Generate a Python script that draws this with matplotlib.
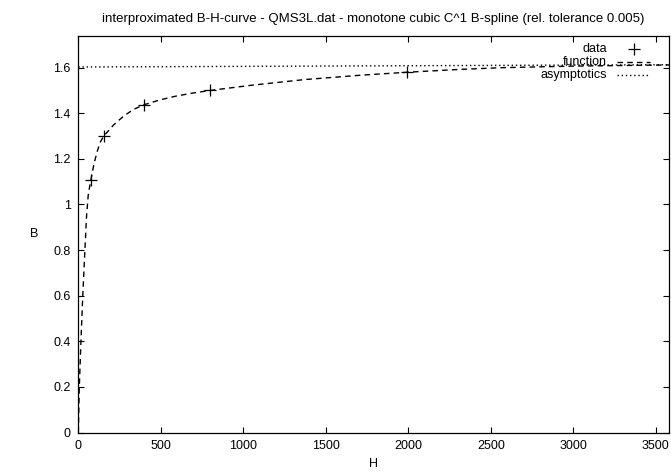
import matplotlib
matplotlib.use('Agg')
import matplotlib.pyplot as plt
from matplotlib.lines import Line2D

plt.rcParams['font.family'] = ['Liberation Sans', 'DejaVu Sans']
plt.rcParams['font.size'] = 9


# measured points of the B-H curve
H_data = [76, 154, 396, 796, 1992]
B_data = [1.107, 1.30, 1.437, 1.50, 1.58]

# interpolating function, sampled along the curve
H_func = [0, 6, 16, 27, 40, 50, 60, 68, 76, 95, 115, 134, 154, 214, 275,
          335, 396, 496, 596, 696, 796, 1050, 1373, 1712, 1992, 2300,
          2563, 3000, 3580]
B_func = [0.0, 0.2, 0.4, 0.6, 0.8, 0.95, 1.04, 1.075, 1.107, 1.178, 1.234,
          1.275, 1.30, 1.349, 1.388, 1.417, 1.437, 1.459, 1.476, 1.489,
          1.50, 1.523, 1.548, 1.567, 1.58, 1.592, 1.60, 1.607, 1.612]

# saturation asymptote
H_asym = [0, 3580]
B_asym = [1.603, 1.613]

x_ticks = [0, 500, 1000, 1500, 2000, 2500, 3000, 3500]
y_ticks = [0, 0.2, 0.4, 0.6, 0.8, 1.0, 1.2, 1.4, 1.6]
y_ticklabels = ['0', '0.2', '0.4', '0.6', '0.8', '1', '1.2', '1.4', '1.6']

title = 'interproximated B-H-curve - QMS3L.dat - monotone cubic C^1 B-spline (rel. tolerance 0.005)'


fig = plt.figure(figsize=(6.71, 4.73), dpi=100)
ax = fig.add_axes([0.1167, 0.0856, 0.997 - 0.1167, 0.9239 - 0.0856])

dash = (0, (4, 3))
dot = (0, (1, 2))

ax.plot(H_asym, B_asym, color='black', lw=1.0, linestyle=dot)
ax.plot(H_func, B_func, color='black', lw=1.0, linestyle=dash)
ax.plot(H_data, B_data, linestyle='none', marker='+', color='black',
        markersize=9, markeredgewidth=0.9)

ax.set_xlim(0, 3580)
ax.set_ylim(0, 1.739)
ax.set_xticks(x_ticks)
ax.set_yticks(y_ticks)
ax.set_yticklabels(y_ticklabels)
ax.tick_params(direction='in', length=4.5, width=0.8, top=True, right=True,
               labelsize=9, pad=5.5)
for sp in ax.spines.values():
    sp.set_linewidth(0.9)

ax.set_xlabel('H', fontsize=9, labelpad=4)
ax.set_ylabel('B', fontsize=9, rotation=0, labelpad=14, va='center')
ax.set_title(title, fontsize=9.5, pad=10)

# key in the top right corner: text right aligned, sample to its right
key = [('data', dict(linestyle='none', marker='+', markersize=9, markeredgewidth=0.9)),
       ('function', dict(linestyle=dash, lw=1.0)),
       ('asymptotics', dict(linestyle=dot, lw=1.0))]
tx = 607 / 671
x0, x1 = 617 / 671, 650 / 671
for i, (name, style) in enumerate(key):
    yy = 1 - (49 + 13 * i) / 473
    fig.text(tx, yy, name, ha='right', va='center', fontsize=9)
    if style.get('marker'):
        fig.add_artist(Line2D([(x0 + x1) / 2], [yy], color='black',
                              transform=fig.transFigure, **style))
    else:
        fig.add_artist(Line2D([x0, x1], [yy, yy], color='black',
                              transform=fig.transFigure, **style))

fig.savefig('out.png', dpi=100)
